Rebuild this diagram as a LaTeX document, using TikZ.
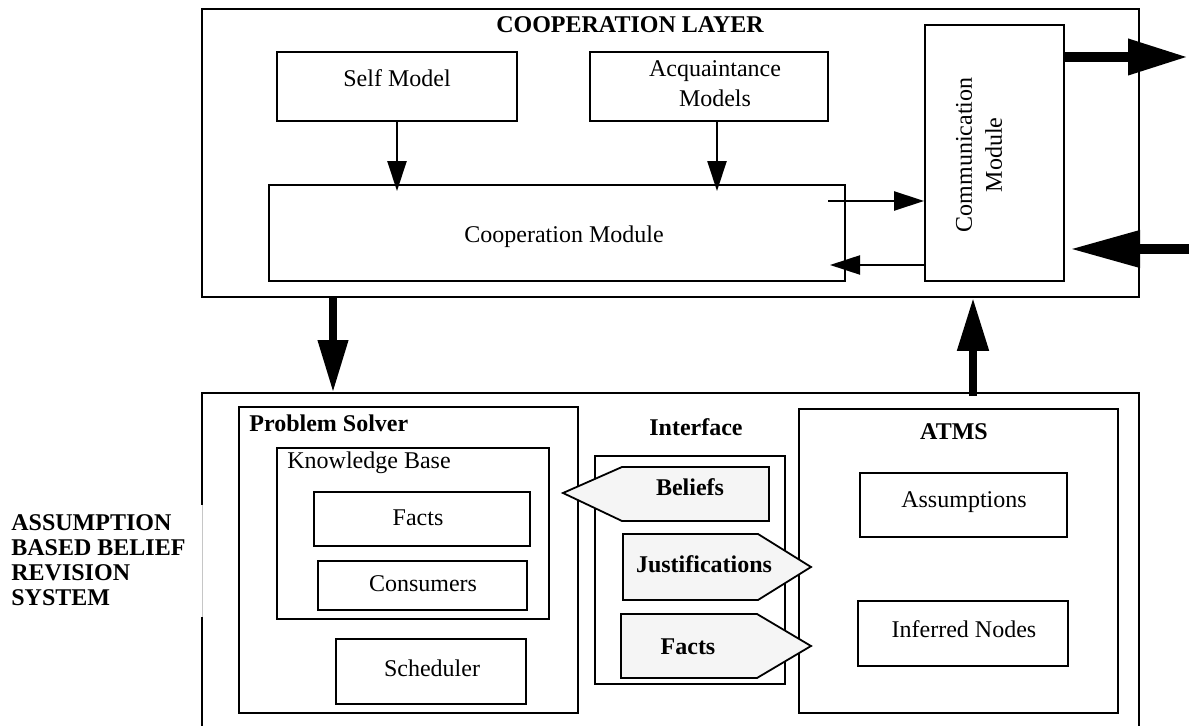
\documentclass[tikz,border=0pt]{standalone}
\usepackage{fontspec}
\setmainfont{Liberation Serif}
\usetikzlibrary{arrows.meta,fit}
\tikzset{
  frame/.style={draw, line width=0.9pt, inner sep=0pt},
  txt/.style={inner sep=0pt, font=\fontsize{12}{15}\selectfont},
  btxt/.style={inner sep=0pt, font=\fontsize{12}{12.5}\selectfont\bfseries},
  signalbox/.style={draw, line width=0.9pt, fill=gray!8, line join=miter},
  link/.style={line width=1.1pt, -{Triangle[length=15pt,width=9.5pt]}},
  flowdown/.style={line width=3.6pt, -{Triangle[length=26pt,width=14.5pt]}},
  flowup/.style={line width=4pt, -{Triangle[length=26.5pt,width=15pt]}},
  flowout/.style={line width=5pt, -{Triangle[length=30pt,width=17pt]}},
  flowin/.style={line width=5pt, -{Triangle[length=35pt,width=17.5pt]}},
}
\begin{document}
\begin{tikzpicture}[x=0.5pt, y=-0.5pt]
\clip (0,0) rectangle (1189,726);

% ---------- cooperation layer ----------
\node[frame, fit={(202,9) (1139,297)}] (layer) {};
\node[btxt] (layertitle) at (630,25) {COOPERATION LAYER};

\node[frame, fit={(277,52) (517,121)}] (self) {};
\node[txt] (selftext) at (397,78) {Self Model};

\node[frame, fit={(590,52) (828,121)}] (acq) {};
\node[txt, align=center] (acqtext) at (715,84) {Acquaintance\\Models};

\node[frame, fit={(269,185) (845,281)}] (coop) {};
\node[txt] (cooptext) at (564,237) {Cooperation Module};

\node[frame, fit={(925,25) (1064,281)}] (comm) {};
\node[txt, rotate=90, align=center] (commtext) at (979,155) {Communication\\Module};

% arrows inside the layer
\draw[link, shorten >=-3.5pt] (self.south) -- (self.south |- coop.north);
\draw[link, shorten >=-3.5pt] ([xshift=4pt]acq.south) -- ([xshift=4pt]acq.south |- coop.north);
\coordinate (c1) at (828,201);
\draw[link] (c1) -- (c1 -| comm.west);
\coordinate (c2) at (830,265);
\draw[link] (c2 -| comm.west) -- (c2);

% external traffic of the communication module
\coordinate (outend) at (1188,57);
\draw[flowout] (outend -| comm.east) -- (outend);
\coordinate (inend) at (1070,249);
\coordinate (instart) at (1195,249);
\draw[flowin] (instart) -- (inend);

% ---------- belief revision system ----------
\node[frame, fit={(202,393) (1139,780)}] (lower) {};
\draw[white, line width=1.4pt] (202,505) -- (202,617);
\draw[gray!45, line width=0.5pt] (202,505) -- (202,617);

\node[btxt, anchor=west, align=left] (systitle) at (11,560)
  {ASSUMPTION\\BASED BELIEF\\REVISION\\SYSTEM};

% layer <-> system
\coordinate (dx) at (333,0);
\draw[flowdown] (dx |- layer.south) -- (dx |- lower.north);
\coordinate (ux) at (973,0);
\draw[flowup] ([yshift=-2pt]ux |- lower.north) -- (ux |- layer.south);

% problem solver
\node[frame, fit={(239,407) (578,713)}] (ps) {};
\node[btxt, anchor=west] (pstitle) at (249,423) {Problem Solver};
\node[frame, fit={(277,448) (549,619)}] (kb) {};
\node[txt, anchor=west] (kbtitle) at (287,463) {Knowledge Base};
\node[frame, fit={(314,492) (530,546)}] (kbfacts) {};
\node[txt] (kbfactstext) at (418,518) {Facts};
\node[frame, fit={(318,561) (527,610)}] (consumers) {};
\node[txt] (consumerstext) at (423,584) {Consumers};
\node[frame, fit={(336,639) (526,704)}] (sched) {};
\node[txt] (schedtext) at (432,668) {Scheduler};

% ATMS
\node[frame, fit={(799,409) (1118,713)}] (atms) {};
\node[btxt] (atmstitle) at (954,432) {ATMS};
\node[frame, fit={(860,473) (1067,537)}] (assume) {};
\node[txt] (assumetext) at (964,502) {Assumptions};
\node[frame, fit={(858,601) (1068,666)}] (inferred) {};
\node[txt] (inferredtext) at (964,629) {Inferred Nodes};

% interface
\node[btxt] (iftitle) at (696,427) {Interface};
\node[frame, fit={(595,456) (785,684)}] (iface) {};
\draw[signalbox] (563,493) -- (622,467) -- (769,467) -- (769,521) -- (622,521) -- cycle;
\node[btxt] (beliefs) at (690,487) {Beliefs};
\draw[signalbox] (623,534) -- (758,534) -- (811,567) -- (758,600) -- (623,600) -- cycle;
\node[btxt] (justif) at (704,564) {Justifications};
\draw[signalbox] (621,614) -- (757,614) -- (811,646) -- (757,678) -- (621,678) -- cycle;
\node[btxt] (ifacts) at (688,647) {Facts};
\end{tikzpicture}
\end{document}
